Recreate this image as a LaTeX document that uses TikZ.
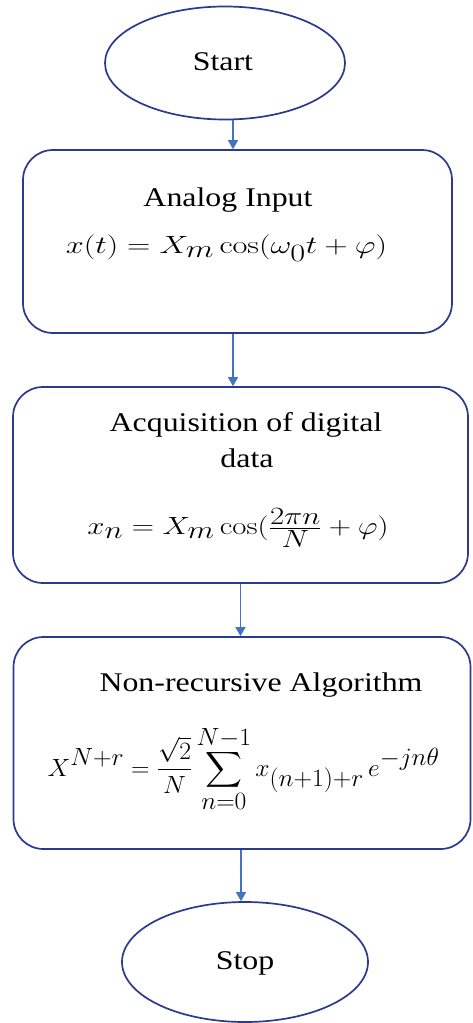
\documentclass[tikz,border=0pt]{standalone}
\usepackage{amsmath}
\usepackage[no-math]{fontspec}
\setmainfont{Liberation Serif}
\usetikzlibrary{shapes.geometric,arrows.meta}
\definecolor{edgeblue}{HTML}{2B3A8C}
\definecolor{arrowblue}{HTML}{4472C4}
% horizontally widened text
\newcommand{\widetext}[2]{\scalebox{#1}[1.0]{#2}}
\tikzset{
  terminal/.style={ellipse, draw=edgeblue, line width=1.7pt, fill=white, inner sep=0pt},
  procbox/.style={rectangle, rounded corners=30pt, draw=edgeblue, line width=1.7pt, fill=white, inner sep=0pt},
  label/.style={font=\fontsize{27}{33}\selectfont, inner sep=0pt},
  formula/.style={font=\fontsize{37}{40}\selectfont, inner sep=0pt},
  flow/.style={draw=arrowblue, line width=1.2pt, -{Triangle[length=9pt,width=10pt]}}
}
\begin{document}
\begin{tikzpicture}[x=1pt,y=-1pt]
\useasboundingbox[fill=white] (0,0) rectangle (472,1023);

% terminals and process boxes
\node[terminal, minimum width=240pt, minimum height=113pt] (start) at (225,63) {};
\node[procbox, minimum width=429pt, minimum height=183pt] (b1) at (237.5,241.5) {};
\node[procbox, minimum width=455pt, minimum height=196pt] (b2) at (240.5,485) {};
\node[procbox, minimum width=457pt, minimum height=212pt] (b3) at (242,743) {};
\node[terminal, minimum width=246pt, minimum height=120pt] (stop) at (245,962) {};

% texts
\node[label] (tstart) at (223,62) {\widetext{1.18}{Start}};
\node[label] (t1) at (228,200) {\widetext{1.18}{Analog Input}};
\node[formula] (f1) at (226.5,248) {\widetext{1.3}{$x(t) = X_m\cos(\omega_0 t + \varphi)$}};
\node[label] (t2a) at (246,425) {\widetext{1.18}{Acquisition of digital}};
\node[label] (t2b) at (247,458) {\widetext{1.18}{data}};
\node[formula, font=\fontsize{35}{39}\selectfont] (f2) at (238,528) {\widetext{1.24}{$x_n = X_m\cos(\tfrac{2\pi n}{N} + \varphi)$}};
\node[label] (t3) at (261,685) {\widetext{1.18}{Non-recursive Algorithm}};
\node[formula, font=\fontsize{36}{40}\selectfont] (f3) at (243.5,769) {\widetext{1.03}{$\displaystyle X^{N+r} = \frac{\sqrt{2}}{N}\sum_{n=0}^{N-1} x_{(n+1)+r}\,e^{-jn\theta}$}};
\node[label] (tstop) at (245,963) {\widetext{1.18}{Stop}};

% connectors
\draw[flow] ([xshift=-4.5pt]b1.north |- start.south) -- ([xshift=-4.5pt]b1.north);
\draw[flow] ([xshift=-4.5pt]b1.south) -- ([xshift=-4.5pt]b1.south |- b2.north);
\draw[flow] (b2.south) -- (b2.south |- b3.north);
\draw[flow] ([xshift=-1pt]b3.south) -- ([xshift=-1pt]b3.south |- stop.north);
\end{tikzpicture}
\end{document}
